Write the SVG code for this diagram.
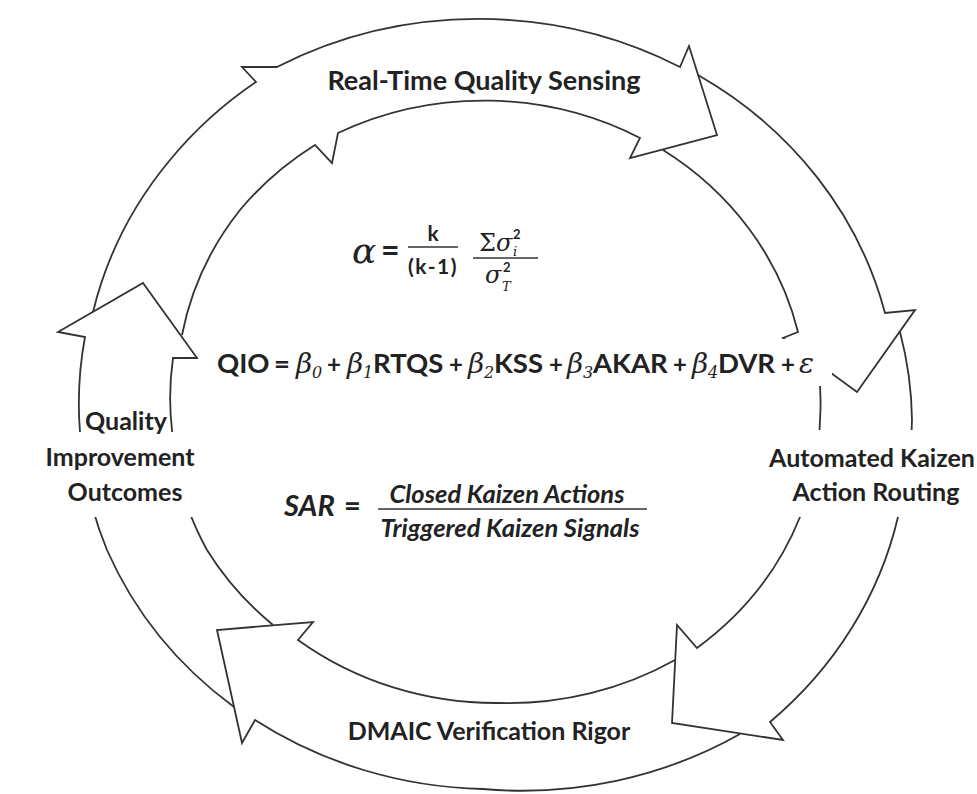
<svg xmlns="http://www.w3.org/2000/svg" width="977" height="794" viewBox="0 0 977 794">
<style>
.ln{fill:none;stroke:#333;stroke-width:1.8;stroke-linejoin:miter}
.lbl{font-family:Lato,"Open Sans",sans-serif;font-weight:700;font-size:25px;fill:#222;text-anchor:middle}
.f{font-family:Lato,"Open Sans",sans-serif;font-weight:700;fill:#222}
.g{font-family:"DejaVu Serif",serif;font-style:italic;font-weight:normal;fill:#222}
.gu{font-family:"DejaVu Serif",serif;font-weight:normal;fill:#222}
.it{font-family:Lato,"Open Sans",sans-serif;font-weight:700;font-style:italic;fill:#222}
.op{font-size:24px}
.mask{fill:#fff;stroke:none}
.bar{stroke:#333;stroke-width:1.6}
</style>
<rect width="977" height="794" fill="#fff"/>
<g id="connectors">
<g id="node-sensing">
<path class="ln" d="M93,312 A418,388 0 0 1 170,160 A418,388 0 0 1 256,82 L242,67 L277,67 A418,388 0 0 1 680,67 L689,46 L717,135 L630,158 L640,138 A323,300 0 0 0 338,133 L332,163 L315,145 A323,300 0 0 0 240,210 A323,300 0 0 0 182,335"/>
</g>
<g id="node-bridge">
<path class="ln" d="M698,75 A418,388 0 0 1 885,313 L915,310 L857,392 L783,338 L798,332 A323,300 0 0 0 663,150"/>
</g>
<g id="node-routing">
<path class="ln" d="M900,332 A418,388 0 0 1 912,420 A418,388 0 0 1 898,517 A418,388 0 0 1 770,722 L783,740 L672,723 L677,625 L697,648 A323,300 0 0 0 800,517 A323,300 0 0 0 820,420 A323,300 0 0 0 818,364"/>
</g>
<g id="node-dmaic">
<path class="ln" d="M740,734 A418,388 0 0 1 483,789 A418,388 0 0 1 255,720 L242,743 L217,630 L313,622 L298,640 A323,300 0 0 0 500,703 A323,300 0 0 0 675,660"/>
</g>
<g id="node-outcomes">
<path class="ln" d="M234,707 A418,388 0 0 1 107,550 A418,388 0 0 1 80,432 A418,388 0 0 1 85,337 L58,332 L143,283 L197,358 L173,358 A323,300 0 0 0 172,430 A323,300 0 0 0 207,550 A323,300 0 0 0 273,625"/>
</g>
</g>
<g id="label-sensing">
<text class="lbl" x="484" y="90" style="font-size:27px">Real-Time Quality Sensing</text>
</g>
<g id="label-routing">
<rect class="mask" x="768" y="430" width="209" height="87"/>
<text class="lbl" x="872" y="467">Automated Kaizen</text>
<text class="lbl" x="876" y="501">Action Routing</text>
</g>
<g id="label-dmaic">
<text class="lbl" x="489" y="740">DMAIC Verification Rigor</text>
</g>
<g id="label-outcomes">
<rect class="mask" x="38" y="432" width="164" height="85"/>
<text class="lbl" x="126" y="430">Quality</text>
<text class="lbl" x="120" y="466">Improvement</text>
<text class="lbl" x="125" y="501">Outcomes</text>
</g>
<g id="formula-alpha">
<text class="g" x="352" y="263" font-size="36">α</text>
<text class="f" x="381" y="262" font-size="32">=</text>
<text class="f" x="433" y="241" font-size="21" text-anchor="middle">k</text>
<line class="bar" x1="408" y1="247" x2="458" y2="247"/>
<text class="f" x="433" y="274" font-size="21" letter-spacing="1.5" text-anchor="middle">(k-1)</text>
<text class="gu" x="479" y="251" font-size="24">Σ</text>
<text class="g" x="496" y="251" font-size="24">σ</text>
<text class="f" x="513" y="239" font-size="13">2</text>
<text class="g" x="513" y="256" font-size="13">i</text>
<line class="bar" x1="473" y1="258" x2="538" y2="258"/>
<text class="g" x="485" y="283" font-size="24">σ</text>
<text class="f" x="503" y="272" font-size="13">2</text>
<text class="g" x="502" y="291" font-size="13">T</text>
</g>
<g id="formula-qio">
<rect class="mask" x="207" y="339" width="625" height="47"/>
<text class="f" y="373" font-size="27.5"><tspan x="217">QIO</tspan><tspan x="274">=</tspan><tspan class="g" x="296" font-size="28">β</tspan><tspan class="g" x="312" dy="5" font-size="16">0</tspan><tspan class="op" x="327" dy="-5">+</tspan><tspan class="g" x="347" font-size="28">β</tspan><tspan class="g" x="363" dy="5" font-size="16">1</tspan><tspan x="373" dy="-5">RTQS</tspan><tspan class="op" x="449">+</tspan><tspan class="g" x="468" font-size="28">β</tspan><tspan class="g" x="484" dy="5" font-size="16">2</tspan><tspan x="494" dy="-5">KSS</tspan><tspan class="op" x="549">+</tspan><tspan class="g" x="567" font-size="28">β</tspan><tspan class="g" x="583" dy="5" font-size="16">3</tspan><tspan x="593" dy="-5">AKAR</tspan><tspan class="op" x="673">+</tspan><tspan class="g" x="692" font-size="28">β</tspan><tspan class="g" x="708" dy="5" font-size="16">4</tspan><tspan x="718" dy="-5">DVR</tspan><tspan class="op" x="781">+</tspan><tspan class="g" x="799" font-size="28">ε</tspan></text>
</g>
<g id="formula-sar">
<text class="it" x="284" y="516" font-size="29">SAR</text>
<text class="f" x="344" y="516" font-size="29">=</text>
<text class="it" x="507" y="503" font-size="25.5" text-anchor="middle">Closed Kaizen Actions</text>
<line class="bar" x1="378" y1="509" x2="647" y2="509"/>
<text class="it" x="510" y="537" font-size="25.5" text-anchor="middle">Triggered Kaizen Signals</text>
</g>
</svg>
